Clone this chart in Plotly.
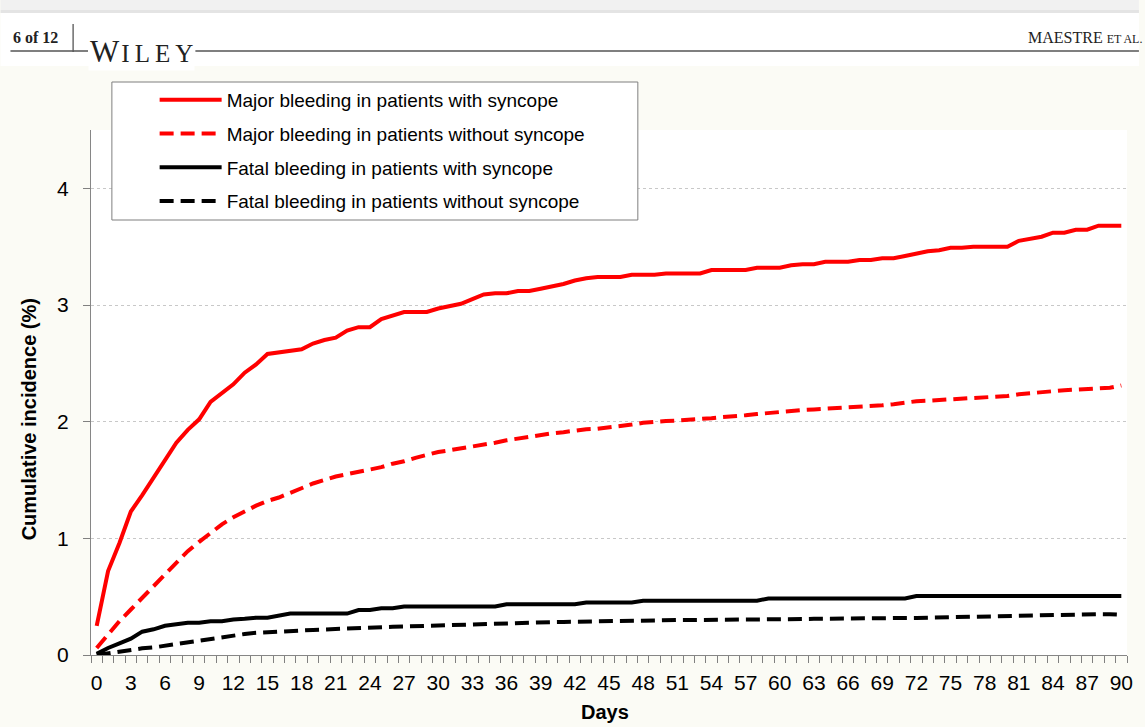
import plotly.graph_objects as go

days = list(range(0, 91))

major_with = [0.25, 0.72, 0.96, 1.23, 1.37, 1.52, 1.67, 1.82, 1.93, 2.02,
              2.17, 2.24, 2.32, 2.42, 2.49, 2.58, 2.595, 2.61, 2.62, 2.67,
              2.70, 2.72, 2.78, 2.81, 2.81, 2.88, 2.91, 2.94, 2.94, 2.94,
              2.97, 2.99, 3.01, 3.05, 3.09, 3.10, 3.10, 3.12, 3.12, 3.14,
              3.16, 3.18, 3.21, 3.23, 3.24, 3.24, 3.24, 3.26, 3.26, 3.26,
              3.27, 3.27, 3.27, 3.27, 3.30, 3.30, 3.30, 3.30, 3.32, 3.32,
              3.32, 3.34, 3.35, 3.35, 3.37, 3.37, 3.37, 3.385, 3.385, 3.40,
              3.40, 3.42, 3.44, 3.46, 3.47, 3.49, 3.49, 3.50, 3.50, 3.50,
              3.50, 3.55, 3.57, 3.585, 3.62, 3.62, 3.645, 3.645, 3.68, 3.68,
              3.68]

major_without = [0.06, 0.18, 0.29, 0.39, 0.49, 0.59, 0.69, 0.79, 0.89, 0.97,
                 1.05, 1.12, 1.18, 1.23, 1.28, 1.32, 1.35, 1.39, 1.43, 1.47,
                 1.50, 1.53, 1.55, 1.57, 1.59, 1.61, 1.64, 1.66, 1.69, 1.715,
                 1.74, 1.755, 1.77, 1.785, 1.80, 1.82, 1.84, 1.855, 1.87, 1.89,
                 1.90, 1.91, 1.925, 1.935, 1.94, 1.95, 1.96, 1.975, 1.99, 2.00,
                 2.005, 2.01, 2.015, 2.02, 2.03, 2.04, 2.045, 2.055, 2.065, 2.075,
                 2.08, 2.09, 2.10, 2.105, 2.11, 2.115, 2.12, 2.13, 2.135, 2.14,
                 2.15, 2.165, 2.175, 2.18, 2.185, 2.19, 2.20, 2.205, 2.21, 2.215,
                 2.22, 2.235, 2.245, 2.25, 2.26, 2.27, 2.275, 2.28, 2.285, 2.29,
                 2.31]

fatal_with = [0.01, 0.06, 0.10, 0.14, 0.20, 0.22, 0.25, 0.265, 0.277, 0.277,
              0.29, 0.29, 0.305, 0.31, 0.32, 0.32, 0.34, 0.355, 0.355, 0.355,
              0.355, 0.355, 0.355, 0.385, 0.385, 0.40, 0.40, 0.415, 0.415, 0.415,
              0.415, 0.415, 0.415, 0.415, 0.415, 0.415, 0.435, 0.435, 0.435, 0.435,
              0.435, 0.435, 0.435, 0.45, 0.45, 0.45, 0.45, 0.45, 0.465, 0.465,
              0.465, 0.465, 0.465, 0.465, 0.465, 0.465, 0.465, 0.465, 0.465, 0.485,
              0.485, 0.485, 0.485, 0.485, 0.485, 0.485, 0.485, 0.485, 0.485, 0.485,
              0.485, 0.485, 0.505, 0.505, 0.505, 0.505, 0.505, 0.505, 0.505, 0.505,
              0.505, 0.505, 0.505, 0.505, 0.505, 0.505, 0.505, 0.505, 0.505, 0.505,
              0.505]

fatal_without = [0.0, 0.015, 0.03, 0.045, 0.057, 0.065, 0.08, 0.095, 0.11, 0.125,
                 0.14, 0.15, 0.165, 0.18, 0.19, 0.197, 0.20, 0.205, 0.21, 0.215,
                 0.22, 0.225, 0.23, 0.233, 0.237, 0.24, 0.242, 0.244, 0.247, 0.25,
                 0.255, 0.257, 0.26, 0.262, 0.265, 0.27, 0.277, 0.28, 0.28, 0.28,
                 0.282, 0.283, 0.285, 0.29, 0.292, 0.295, 0.297, 0.30, 0.30, 0.30,
                 0.30, 0.30, 0.30, 0.30, 0.30, 0.30, 0.30, 0.30, 0.30, 0.305,
                 0.305, 0.307, 0.308, 0.31, 0.31, 0.312, 0.312, 0.312, 0.312, 0.312,
                 0.312, 0.315, 0.318, 0.32, 0.322, 0.325, 0.328, 0.33, 0.333, 0.337,
                 0.34, 0.342, 0.343, 0.345, 0.345, 0.347, 0.348, 0.35, 0.35, 0.35,
                 0.345]

series_names = ["Major bleeding in patients with syncope",
                "Major bleeding in patients without syncope",
                "Fatal bleeding in patients with syncope",
                "Fatal bleeding in patients without syncope"]
series_values = [major_with, major_without, fatal_with, fatal_without]
series_colors = ["#ff0000", "#ff0000", "#000000", "#000000"]
series_dash = ["solid", "14px,7px", "solid", "14px,7px"]

x_tick_vals = list(range(0, 91, 3))
y_tick_vals = [0, 1, 2, 3, 4]

W, H = 1145, 727
L, R, T, B = 91, 1133, 130, 655


def px(x):
    return (x - L) / (R - L)


def py(y):
    return (B - y) / (B - T)


fig = go.Figure()
for name, vals, col, dash in zip(series_names, series_values, series_colors, series_dash):
    fig.add_trace(go.Scatter(
        x=days, y=vals, mode="lines", name=name, legendgroup=name,
        line=dict(color=col, width=4, dash=dash),
    ))

FONT = "Arial, Liberation Sans, Helvetica, sans-serif"
SERIF = "Liberation Serif, Times New Roman, DejaVu Serif, serif"

shapes = []
# page header: grey band and white strip
shapes.append(dict(type="rect", xref="paper", yref="paper", x0=px(0), x1=px(W), y0=py(0), y1=py(10),
                   fillcolor="#f1f1f1", line=dict(width=0), layer="below"))
shapes.append(dict(type="rect", xref="paper", yref="paper", x0=px(0), x1=px(W), y0=py(10), y1=py(13),
                   fillcolor="#e4e4e4", line=dict(width=0), layer="below"))
shapes.append(dict(type="rect", xref="paper", yref="paper", x0=px(0), x1=px(W), y0=py(13), y1=py(66),
                   fillcolor="#ffffff", line=dict(width=0), layer="below"))
# header rules
shapes.append(dict(type="line", xref="paper", yref="paper", x0=px(10), x1=px(88), y0=py(51), y1=py(51),
                   line=dict(color="#555555", width=1.3)))
shapes.append(dict(type="line", xref="paper", yref="paper", x0=px(196), x1=px(W), y0=py(51), y1=py(51),
                   line=dict(color="#555555", width=1.3)))
shapes.append(dict(type="line", xref="paper", yref="paper", x0=px(73), x1=px(73), y0=py(24), y1=py(52),
                   line=dict(color="#555555", width=1.3)))
# legend box
shapes.append(dict(type="rect", xref="paper", yref="paper", x0=px(112), x1=px(641), y0=py(82), y1=py(220),
                   fillcolor="#ffffff", line=dict(color="#7f7f7f", width=1), layer="above"))

annotations = [
    dict(text="<b>6 of 12</b>", xref="paper", yref="paper", x=px(11), y=py(37), xanchor="left", yanchor="middle",
         showarrow=False, font=dict(family=SERIF, size=16, color="#222222")),
    dict(text="<span style='font-size:31px'>W</span>\u200aI\u2009L\u2009E\u2009Y", xref="paper", yref="paper",
         x=px(88), y=py(51), xanchor="left", yanchor="middle", showarrow=False, bgcolor="#ffffff",
         font=dict(family=SERIF, size=25, color="#222222")),
    dict(text="MAESTRE <span style='font-size:12px'>ET AL.</span>", xref="paper", yref="paper",
         x=px(1150), y=py(37), xanchor="right", yanchor="middle", showarrow=False,
         font=dict(family=SERIF, size=16, color="#222222")),
    dict(text="<b>Days</b>", xref="paper", yref="paper", x=px(608), y=py(712), xanchor="center", yanchor="middle",
         showarrow=False, font=dict(family=FONT, size=20, color="#000000")),
    dict(text="<b>Cumulative incidence (%)</b>", xref="paper", yref="paper", x=px(29), y=py(419),
         xanchor="center", yanchor="middle", textangle=-90, showarrow=False,
         font=dict(family=FONT, size=20, color="#000000")),
]

fig.update_layout(
    width=W, height=H,
    margin=dict(l=L, r=W - R, t=T, b=H - B, pad=0),
    paper_bgcolor="#fbfbf5",
    plot_bgcolor="#ffffff",
    showlegend=True,
    legend=dict(x=px(155), y=py(81), xanchor="left", yanchor="top",
                bgcolor="rgba(0,0,0,0)", borderwidth=0,
                font=dict(family=FONT, size=19, color="#000000"),
                itemwidth=62, tracegroupgap=6, traceorder="grouped"),
    shapes=shapes,
    annotations=annotations,
    font=dict(family=FONT, color="#000000"),
)

fig.update_xaxes(
    range=[-0.5, 90.5], tickvals=x_tick_vals, ticktext=[str(v) for v in x_tick_vals],
    ticks="outside", ticklen=7, tickcolor="rgba(0,0,0,0)",
    minor=dict(tick0=0.5, dtick=1, ticks="outside", ticklen=7, tickcolor="#808080", tickwidth=1, showgrid=False),
    showline=True, linecolor="#868686", linewidth=1, showgrid=False, zeroline=False,
    tickfont=dict(family=FONT, size=21, color="#000000"), ticklabelstandoff=2,
)
fig.update_yaxes(
    range=[0, 4.5], tickvals=y_tick_vals, ticktext=[str(v) for v in y_tick_vals],
    ticks="outside", ticklen=7, tickcolor="#808080",
    showline=True, linecolor="#868686", linewidth=1,
    showgrid=True, gridcolor="#c8c8c8", griddash="dot", gridwidth=1, zeroline=False,
    tickfont=dict(family=FONT, size=21, color="#000000"), ticklabelstandoff=10,
)

fig.write_html("out.html")
